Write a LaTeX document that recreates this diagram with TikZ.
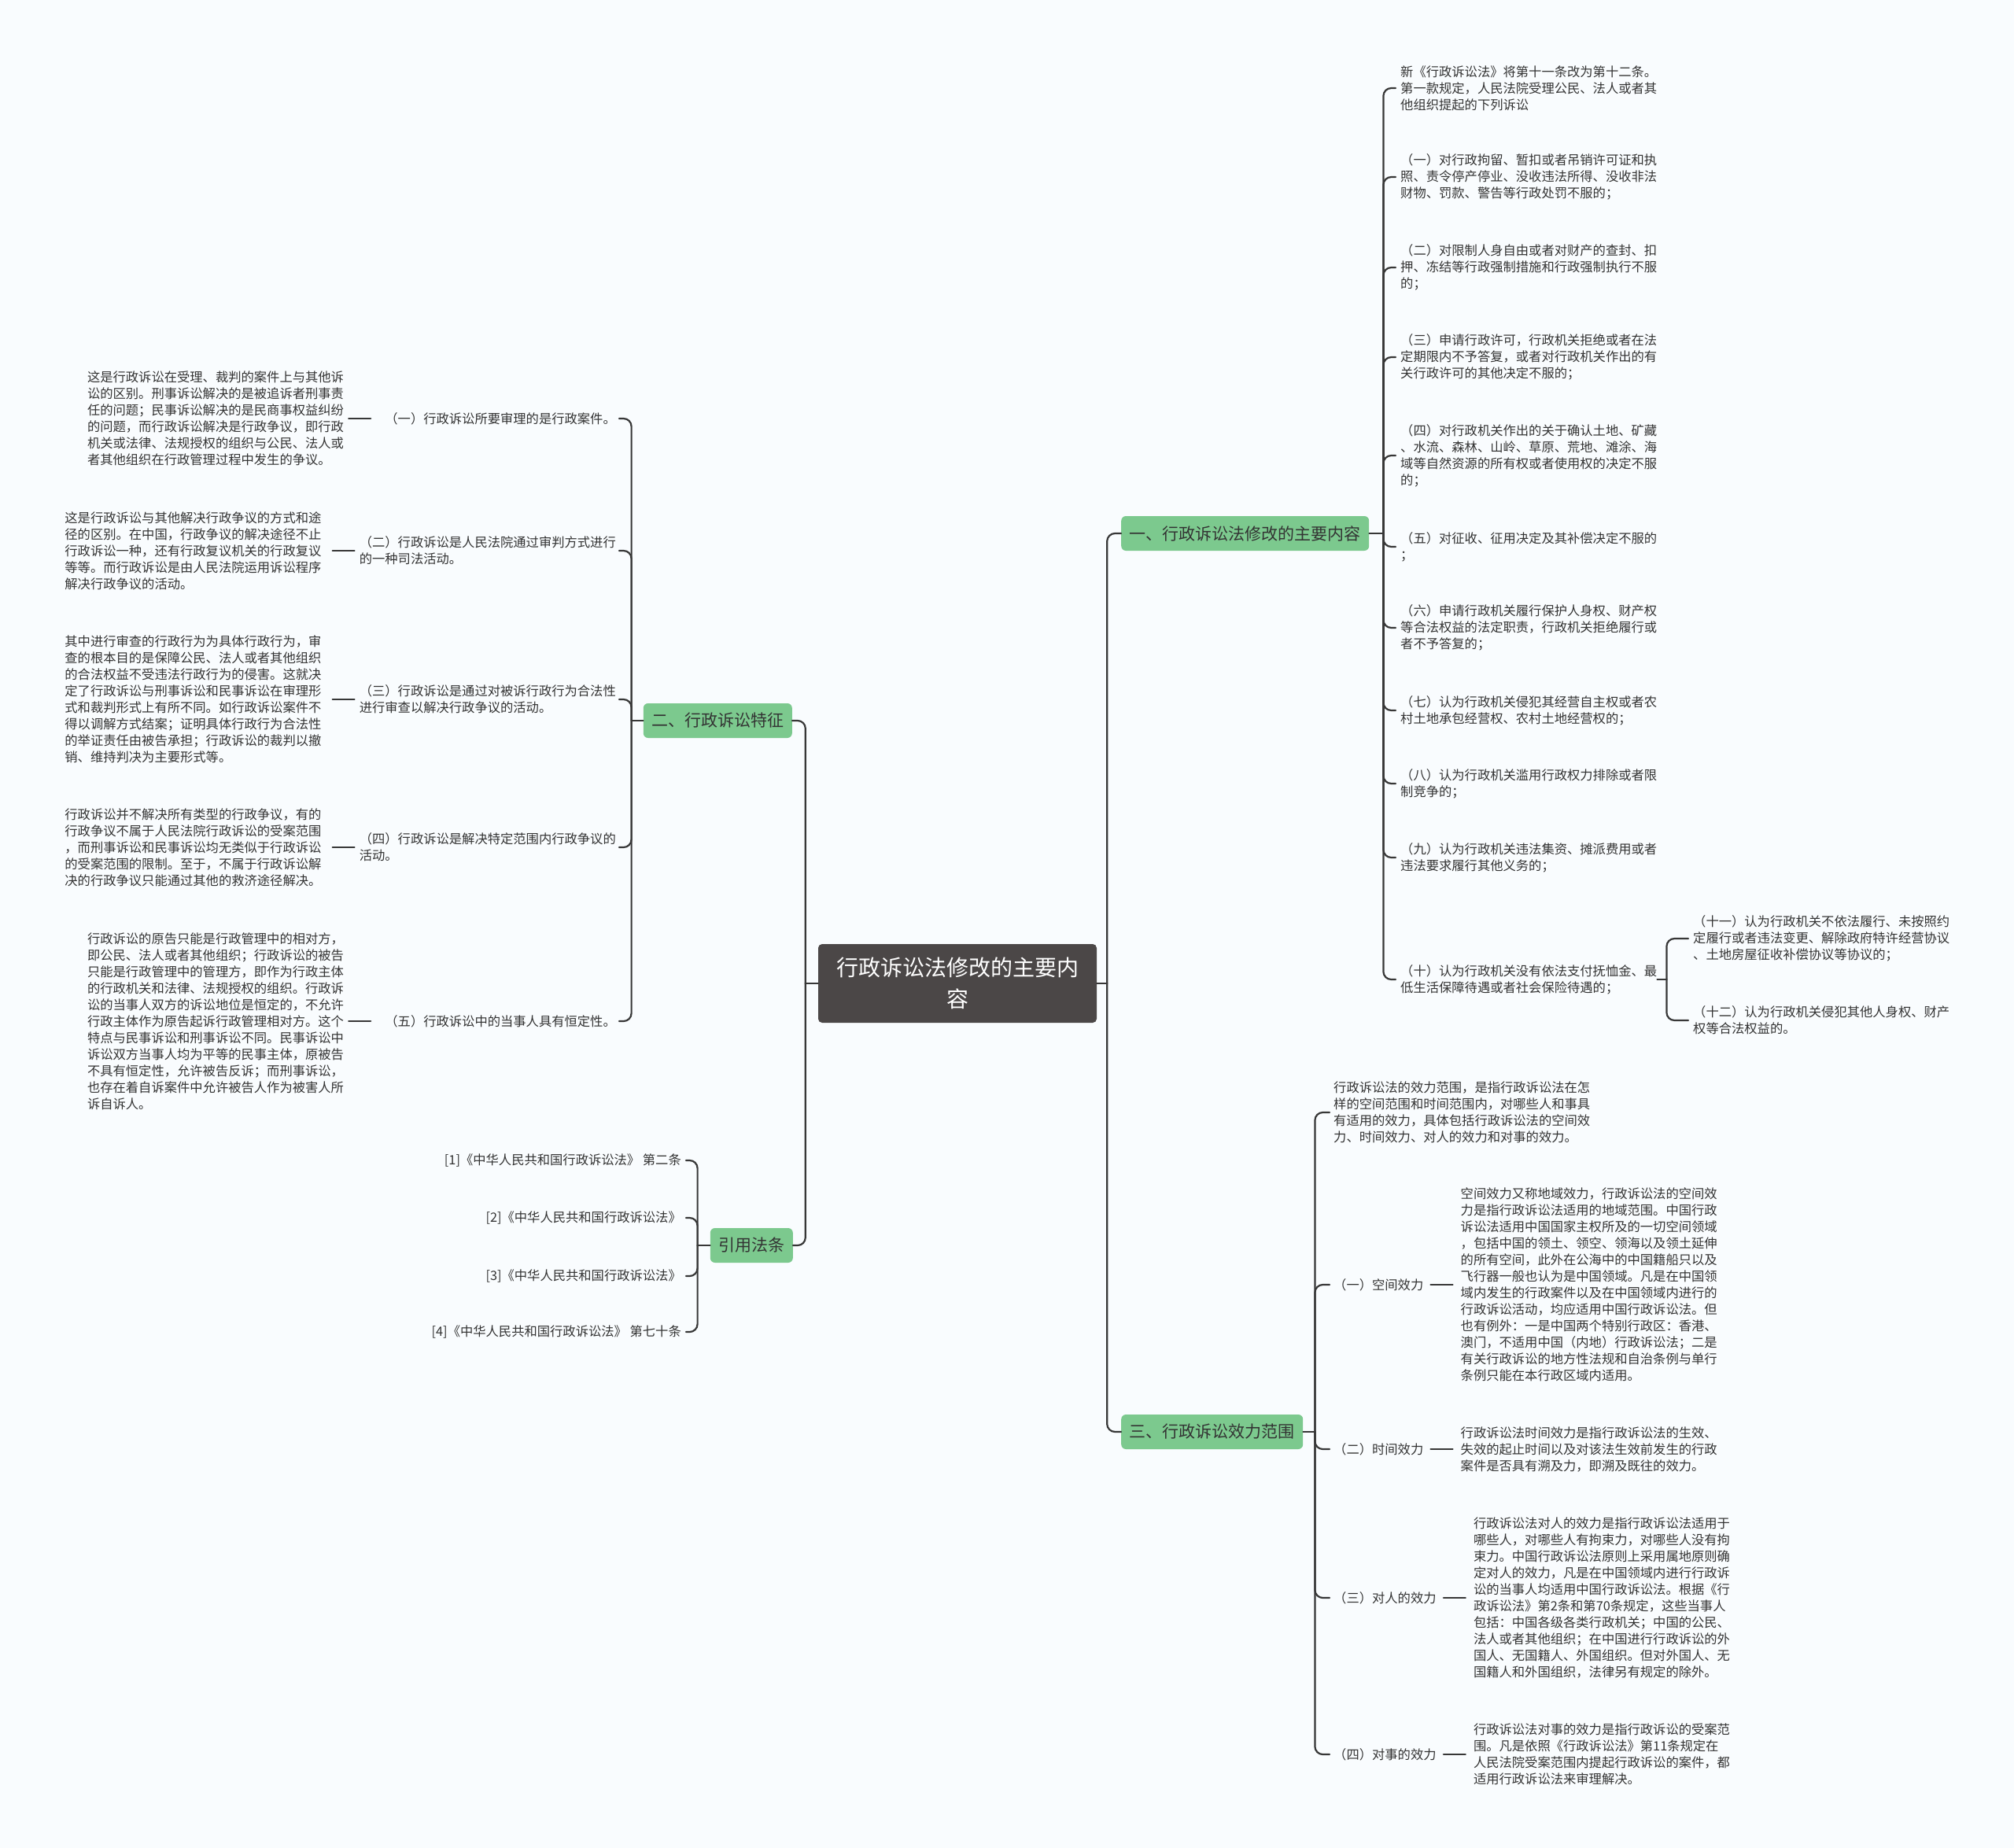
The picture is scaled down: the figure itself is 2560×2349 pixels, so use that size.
\documentclass[tikz,border=0pt]{standalone}
\usepackage{fontspec}
\setmainfont{Noto Sans CJK SC}
\usepackage{tikz}
\usetikzlibrary{positioning}
\definecolor{paper}{RGB}{249,252,254}
\definecolor{rootgray}{RGB}{75,71,71}
\definecolor{branchgreen}{RGB}{124,201,142}
\definecolor{linegray}{RGB}{55,55,55}
\definecolor{textgray}{RGB}{51,51,51}

\begin{document}
\begin{tikzpicture}[x=1pt, y=-1pt,
  root/.style={fill=rootgray, text=white, rounded corners=5pt, align=center, inner xsep=23pt, minimum height=100pt, font=\fontsize{28}{40}\selectfont},
  branch/.style={fill=branchgreen, text=textgray, rounded corners=6pt, inner xsep=10.5pt, inner ysep=0pt, minimum height=44pt, font=\fontsize{21}{25}\selectfont},
  leaf/.style={inner sep=0pt, align=left, text=textgray, font=\fontsize{16.3}{21}\selectfont},
  link/.style={draw=linegray, line width=2.2pt, rounded corners=10pt, line cap=round}]
\fill[paper] (0,0) rectangle (2560,2349);

\node[root] (root) at (1217,1250) {行政诉讼法修改的主要内\\容};
\node[branch, anchor=west] (b1) at (1425,678) {一、行政诉讼法修改的主要内容};
\node[branch, anchor=east] (b2) at (1007,916) {二、行政诉讼特征};
\node[branch, anchor=west] (b3) at (1425,1820) {三、行政诉讼效力范围};
\node[branch, anchor=east] (b4) at (1008,1583) {引用法条};

\node[leaf, anchor=west] (r0) at (1780,112) {新《行政诉讼法》将第十一条改为第十二条。\\第一款规定，人民法院受理公民、法人或者其\\他组织提起的下列诉讼};
\node[leaf, anchor=west] (r1) at (1780,225) {（一）对行政拘留、暂扣或者吊销许可证和执\\照、责令停产停业、没收违法所得、没收非法\\财物、罚款、警告等行政处罚不服的；};
\node[leaf, anchor=west] (r2) at (1780,340) {（二）对限制人身自由或者对财产的查封、扣\\押、冻结等行政强制措施和行政强制执行不服\\的；};
\node[leaf, anchor=west] (r3) at (1780,454) {（三）申请行政许可，行政机关拒绝或者在法\\定期限内不予答复，或者对行政机关作出的有\\关行政许可的其他决定不服的；};
\node[leaf, anchor=west] (r4) at (1780,579) {（四）对行政机关作出的关于确认土地、矿藏\\、水流、森林、山岭、草原、荒地、滩涂、海\\域等自然资源的所有权或者使用权的决定不服\\的；};
\node[leaf, anchor=west] (r5) at (1780,695) {（五）对征收、征用决定及其补偿决定不服的\\；};
\node[leaf, anchor=west] (r6) at (1780,798) {（六）申请行政机关履行保护人身权、财产权\\等合法权益的法定职责，行政机关拒绝履行或\\者不予答复的；};
\node[leaf, anchor=west] (r7) at (1780,903) {（七）认为行政机关侵犯其经营自主权或者农\\村土地承包经营权、农村土地经营权的；};
\node[leaf, anchor=west] (r8) at (1780,996) {（八）认为行政机关滥用行政权力排除或者限\\制竞争的；};
\node[leaf, anchor=west] (r9) at (1780,1090) {（九）认为行政机关违法集资、摊派费用或者\\违法要求履行其他义务的；};
\node[leaf, anchor=west] (r10) at (1780,1245) {（十）认为行政机关没有依法支付抚恤金、最\\低生活保障待遇或者社会保险待遇的；};
\node[leaf, anchor=west] (r11) at (2152,1193) {（十一）认为行政机关不依法履行、未按照约\\定履行或者违法变更、解除政府特许经营协议\\、土地房屋征收补偿协议等协议的；};
\node[leaf, anchor=west] (r12) at (2152,1297) {（十二）认为行政机关侵犯其他人身权、财产\\权等合法权益的。};

\node[leaf, anchor=east] (l1) at (783,532) {（一）行政诉讼所要审理的是行政案件。};
\node[leaf, anchor=east] (l2) at (783,700) {（二）行政诉讼是人民法院通过审判方式进行\\的一种司法活动。};
\node[leaf, anchor=east] (l3) at (783,889) {（三）行政诉讼是通过对被诉行政行为合法性\\进行审查以解决行政争议的活动。};
\node[leaf, anchor=east] (l4) at (783,1077) {（四）行政诉讼是解决特定范围内行政争议的\\活动。};
\node[leaf, anchor=east] (l5) at (783,1298) {（五）行政诉讼中的当事人具有恒定性。};
\node[leaf, left=52pt of l1] (d1) {这是行政诉讼在受理、裁判的案件上与其他诉\\讼的区别。刑事诉讼解决的是被追诉者刑事责\\任的问题；民事诉讼解决的是民商事权益纠纷\\的问题，而行政诉讼解决是行政争议，即行政\\机关或法律、法规授权的组织与公民、法人或\\者其他组织在行政管理过程中发生的争议。};
\node[leaf, left=48pt of l2] (d2) {这是行政诉讼与其他解决行政争议的方式和途\\径的区别。在中国，行政争议的解决途径不止\\行政诉讼一种，还有行政复议机关的行政复议\\等等。而行政诉讼是由人民法院运用诉讼程序\\解决行政争议的活动。};
\node[leaf, left=48pt of l3] (d3) {其中进行审查的行政行为为具体行政行为，审\\查的根本目的是保障公民、法人或者其他组织\\的合法权益不受违法行政行为的侵害。这就决\\定了行政诉讼与刑事诉讼和民事诉讼在审理形\\式和裁判形式上有所不同。如行政诉讼案件不\\得以调解方式结案；证明具体行政行为合法性\\的举证责任由被告承担；行政诉讼的裁判以撤\\销、维持判决为主要形式等。};
\node[leaf, left=48pt of l4] (d4) {行政诉讼并不解决所有类型的行政争议，有的\\行政争议不属于人民法院行政诉讼的受案范围\\，而刑事诉讼和民事诉讼均无类似于行政诉讼\\的受案范围的限制。至于，不属于行政诉讼解\\决的行政争议只能通过其他的救济途径解决。};
\node[leaf, left=52pt of l5] (d5) {行政诉讼的原告只能是行政管理中的相对方，\\即公民、法人或者其他组织；行政诉讼的被告\\只能是行政管理中的管理方，即作为行政主体\\的行政机关和法律、法规授权的组织。行政诉\\讼的当事人双方的诉讼地位是恒定的，不允许\\行政主体作为原告起诉行政管理相对方。这个\\特点与民事诉讼和刑事诉讼不同。民事诉讼中\\诉讼双方当事人均为平等的民事主体，原被告\\不具有恒定性，允许被告反诉；而刑事诉讼，\\也存在着自诉案件中允许被告人作为被害人所\\诉自诉人。};

\node[leaf, anchor=east] (f1) at (866,1475) {[1]《中华人民共和国行政诉讼法》 第二条};
\node[leaf, anchor=east] (f2) at (866,1548) {[2]《中华人民共和国行政诉讼法》};
\node[leaf, anchor=east] (f3) at (866,1622) {[3]《中华人民共和国行政诉讼法》};
\node[leaf, anchor=east] (f4) at (866,1693) {[4]《中华人民共和国行政诉讼法》 第七十条};

\node[leaf, anchor=west] (t0) at (1695,1414) {行政诉讼法的效力范围，是指行政诉讼法在怎\\样的空间范围和时间范围内，对哪些人和事具\\有适用的效力，具体包括行政诉讼法的空间效\\力、时间效力、对人的效力和对事的效力。};
\node[leaf, anchor=west] (t1) at (1695,1633) {（一）空间效力};
\node[leaf, anchor=west] (t2) at (1695,1842) {（二）时间效力};
\node[leaf, anchor=west] (t3) at (1695,2031) {（三）对人的效力};
\node[leaf, anchor=west] (t4) at (1695,2230) {（四）对事的效力};
\node[leaf, right=47pt of t1] (e1) {空间效力又称地域效力，行政诉讼法的空间效\\力是指行政诉讼法适用的地域范围。中国行政\\诉讼法适用中国国家主权所及的一切空间领域\\，包括中国的领土、领空、领海以及领土延伸\\的所有空间，此外在公海中的中国籍船只以及\\飞行器一般也认为是中国领域。凡是在中国领\\域内发生的行政案件以及在中国领域内进行的\\行政诉讼活动，均应适用中国行政诉讼法。但\\也有例外：一是中国两个特别行政区：香港、\\澳门，不适用中国（内地）行政诉讼法；二是\\有关行政诉讼的地方性法规和自治条例与单行\\条例只能在本行政区域内适用。};
\node[leaf, right=47pt of t2] (e2) {行政诉讼法时间效力是指行政诉讼法的生效、\\失效的起止时间以及对该法生效前发生的行政\\案件是否具有溯及力，即溯及既往的效力。};
\node[leaf, right=47pt of t3] (e3) {行政诉讼法对人的效力是指行政诉讼法适用于\\哪些人，对哪些人有拘束力，对哪些人没有拘\\束力。中国行政诉讼法原则上采用属地原则确\\定对人的效力，凡是在中国领域内进行行政诉\\讼的当事人均适用中国行政诉讼法。根据《行\\政诉讼法》第2条和第70条规定，这些当事人\\包括：中国各级各类行政机关；中国的公民、\\法人或者其他组织；在中国进行行政诉讼的外\\国人、无国籍人、外国组织。但对外国人、无\\国籍人和外国组织，法律另有规定的除外。};
\node[leaf, right=47pt of t4] (e4) {行政诉讼法对事的效力是指行政诉讼的受案范\\围。凡是依照《行政诉讼法》第11条规定在\\人民法院受案范围内提起行政诉讼的案件，都\\适用行政诉讼法来审理解决。};

\coordinate (cR) at ([xshift=13pt]root.east);
\coordinate (cL) at ([xshift=-16pt]root.west);
\coordinate (s1) at ([xshift=18pt]b1.east);
\coordinate (s2) at ([xshift=-15pt]b2.west);
\coordinate (s3) at ([xshift=15pt]b3.east);
\coordinate (s4) at ([xshift=-16pt]b4.west);
\coordinate (s10) at ([xshift=12pt]r10.east);

\draw[link] (root.east) -- (cR);
\draw[link] (cR) |- (b1.west);
\draw[link] (cR) |- (b3.west);
\draw[link] (root.west) -- (cL);
\draw[link] (cL) |- (b2.east);
\draw[link] (cL) |- (b4.east);

\draw[link] (b1.east) -- (s1);
\draw[link, shorten >=6pt] (s1) |- (r0.west);
\draw[link, shorten >=6pt] (s1) |- (r1.west);
\draw[link, shorten >=6pt] (s1) |- (r2.west);
\draw[link, shorten >=6pt] (s1) |- (r3.west);
\draw[link, shorten >=6pt] (s1) |- (r4.west);
\draw[link, shorten >=6pt] (s1) |- (r5.west);
\draw[link, shorten >=6pt] (s1) |- (r6.west);
\draw[link, shorten >=6pt] (s1) |- (r7.west);
\draw[link, shorten >=6pt] (s1) |- (r8.west);
\draw[link, shorten >=6pt] (s1) |- (r9.west);
\draw[link, shorten >=6pt] (s1) |- (r10.west);
\draw[link] (r10.east) -- (s10);
\draw[link, shorten >=6pt] (s10) |- (r11.west);
\draw[link, shorten >=6pt] (s10) |- (r12.west);

\draw[link] (b2.west) -- (s2);
\draw[link, shorten >=4pt] (s2) |- (l1.east);
\draw[link, shorten >=4pt] (s2) |- (l2.east);
\draw[link, shorten >=4pt] (s2) |- (l3.east);
\draw[link, shorten >=4pt] (s2) |- (l4.east);
\draw[link, shorten >=4pt] (s2) |- (l5.east);
\draw[link, shorten <=18pt, shorten >=6pt] (l1) -- (d1);
\draw[link, shorten <=6pt, shorten >=14pt] (l2) -- (d2);
\draw[link, shorten <=6pt, shorten >=14pt] (l3) -- (d3);
\draw[link, shorten <=6pt, shorten >=14pt] (l4) -- (d4);
\draw[link, shorten <=18pt, shorten >=6pt] (l5) -- (d5);

\draw[link] (b4.west) -- (s4);
\draw[link, shorten >=6pt] (s4) |- (f1.east);
\draw[link, shorten >=6pt] (s4) |- (f2.east);
\draw[link, shorten >=6pt] (s4) |- (f3.east);
\draw[link, shorten >=6pt] (s4) |- (f4.east);

\draw[link] (b3.east) -- (s3);
\draw[link, shorten >=5pt] (s3) |- (t0.west);
\draw[link, shorten >=5pt] (s3) |- (t1.west);
\draw[link, shorten >=5pt] (s3) |- (t2.west);
\draw[link, shorten >=5pt] (s3) |- (t3.west);
\draw[link, shorten >=5pt] (s3) |- (t4.west);
\draw[link, shorten <=9pt, shorten >=10pt] (t1) -- (e1);
\draw[link, shorten <=9pt, shorten >=10pt] (t2) -- (e2);
\draw[link, shorten <=9pt, shorten >=10pt] (t3) -- (e3);
\draw[link, shorten <=9pt, shorten >=10pt] (t4) -- (e4);
\end{tikzpicture}
\end{document}
